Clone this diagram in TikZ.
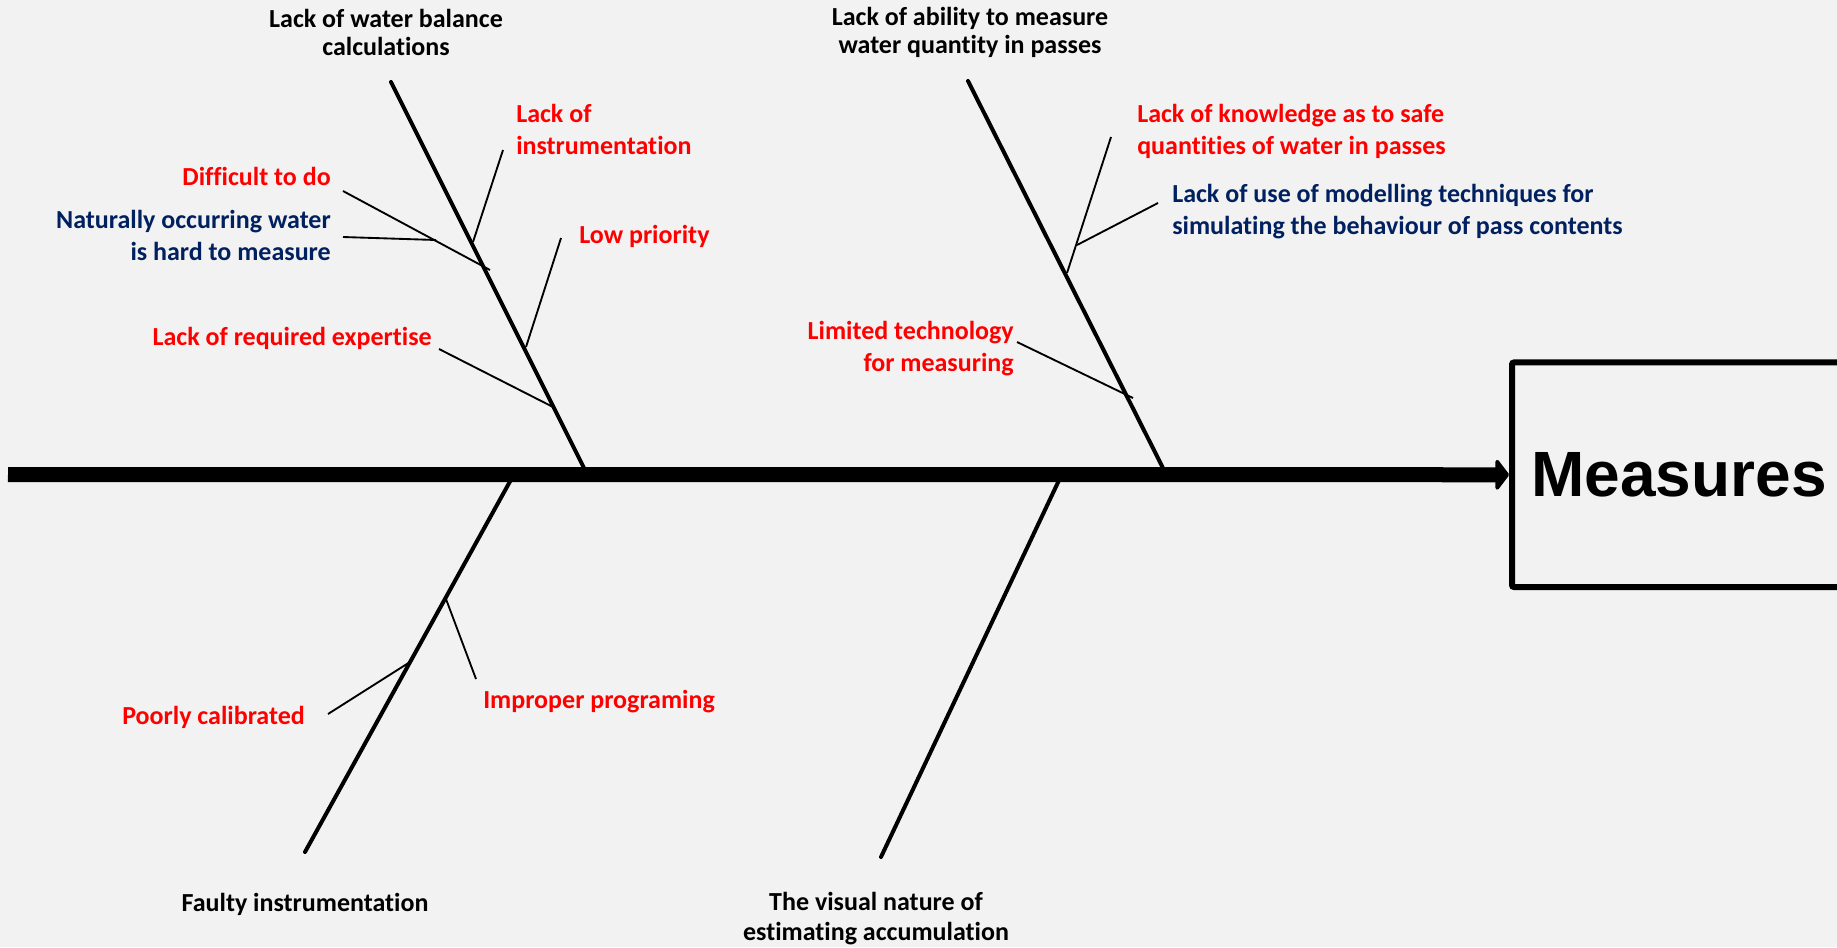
\documentclass[tikz,border=0pt]{standalone}
\usepackage{fontspec}
\setmainfont{Carlito}[Ligatures=NoCommon]
\newfontfamily\arialfont{Liberation Sans}
\usetikzlibrary{arrows.meta}
\definecolor{bg}{HTML}{F2F2F2}
\definecolor{lblred}{HTML}{FF0000}
\definecolor{lblblue}{HTML}{002060}
\begin{document}
\begin{tikzpicture}[x=0.75pt,y=-0.75pt,
  cat/.style={font=\bfseries\fontsize{19.5pt}{21pt}\selectfont, text=black, inner sep=0pt, align=center},
  cause/.style={font=\bfseries\fontsize{19.5pt}{24pt}\selectfont, inner sep=0pt},
  redc/.style={cause, text=lblred},
  bluec/.style={cause, text=lblblue},
  bone/.style={line width=3pt, line cap=round},
  twig/.style={line width=1.4pt},
  spine/.style={line width=11.25pt, -{Triangle[length=10.5pt,width=27pt,round]}},
  effect/.style={draw, line width=4.5pt, rounded corners=1.5pt, minimum width=250.5pt, minimum height=168.4pt, inner sep=0pt,
    font=\arialfont\bfseries\fontsize{48pt}{56pt}\selectfont},
]
\fill[bg] (0,0) rectangle (1837,947);
\useasboundingbox (0,0) rectangle (1837,947);
\clip (0,0) rectangle (1837,947);

% effect box
\node[effect] (measures) at (1679,474.75) {Measures};

% spine end points
\coordinate (sL) at (8,474.5);

% main bones
\coordinate (tlTop) at (391,82);   \coordinate (tlBot) at (586,472);
\coordinate (trTop) at (968,81);   \coordinate (trBot) at (1165,472);
\coordinate (blTop) at (513,476);  \coordinate (blBot) at (305,852);
\coordinate (brTop) at (1061,476); \coordinate (brBot) at (881,857);

% twigs
\coordinate (insA) at (503,150);  \coordinate (insB) at (473,242);
\coordinate (difA) at (343,191);  \coordinate (difB) at (490,270);
\coordinate (natA) at (343,237);  \coordinate (natB) at (436,240);
\coordinate (lowA) at (561,238);  \coordinate (lowB) at (526,347);
\coordinate (expA) at (439,349);  \coordinate (expB) at (555,408);
\coordinate (knoA) at (1111,137); \coordinate (knoB) at (1067,273);
\coordinate (modA) at (1158,203); \coordinate (modB) at (1077,245);
\coordinate (limA) at (1017,342); \coordinate (limB) at (1133,398);
\coordinate (impA) at (476,679);  \coordinate (impB) at (446,599);
\coordinate (pooA) at (328,714);  \coordinate (pooB) at (410,662);

\draw[bone] (tlTop) -- (tlBot);
\draw[bone] (trTop) -- (trBot);
\draw[bone] (blTop) -- (blBot);
\draw[bone] (brTop) -- (brBot);

\draw[twig] (insA) -- (insB);
\draw[twig] (difA) -- (difB);
\draw[twig] (natA) -- (natB);
\draw[twig] (lowA) -- (lowB);
\draw[twig] (expA) -- (expB);
\draw[twig] (knoA) -- (knoB);
\draw[twig] (modA) -- (modB);
\draw[twig] (limA) -- (limB);
\draw[twig] (impA) -- (impB);
\draw[twig] (pooA) -- (pooB);

% spine
\draw[spine] (sL) -- (measures.west);

% category labels
\node[cat] (lwb) at (386,32) {Lack of water balance\\calculations};
\node[cat] (lam) at (970,32) {Lack of ability to measure\\water quantity in passes};
\node[cat] (fau) at (305,904) {Faulty instrumentation};
\node[cat, font=\bfseries\fontsize{19.5pt}{22pt}\selectfont] (vis) at (876,918.5) {The visual nature of\\estimating accumulation};

% cause labels
\node[redc, anchor=west, align=left] (ins) at (516,129.5) {Lack of\\instrumentation};
\node[redc, anchor=east] (dif) at (331,176) {Difficult to do};
\node[bluec, anchor=east, align=right] (nat) at (331,235.5) {Naturally occurring water\\is hard to measure};
\node[redc, anchor=west] (low) at (579,236) {Low priority};
\node[redc, anchor=east] (exp) at (432,338) {Lack of required expertise};
\node[redc, anchor=west, align=left] (kno) at (1137,131) {Lack of knowledge as to safe\\quantities of water in passes};
\node[bluec, anchor=west, align=left] (mod) at (1172,212) {Lack of use of modelling techniques for\\simulating the behaviour of pass contents};
\node[redc, anchor=east, align=right] (lim) at (1014,348.5) {Limited technology\\for measuring};
\node[redc, anchor=east] (poo) at (305,717) {Poorly calibrated};
\node[redc, anchor=west] (imp) at (483,702) {Improper programing};
\end{tikzpicture}
\end{document}
